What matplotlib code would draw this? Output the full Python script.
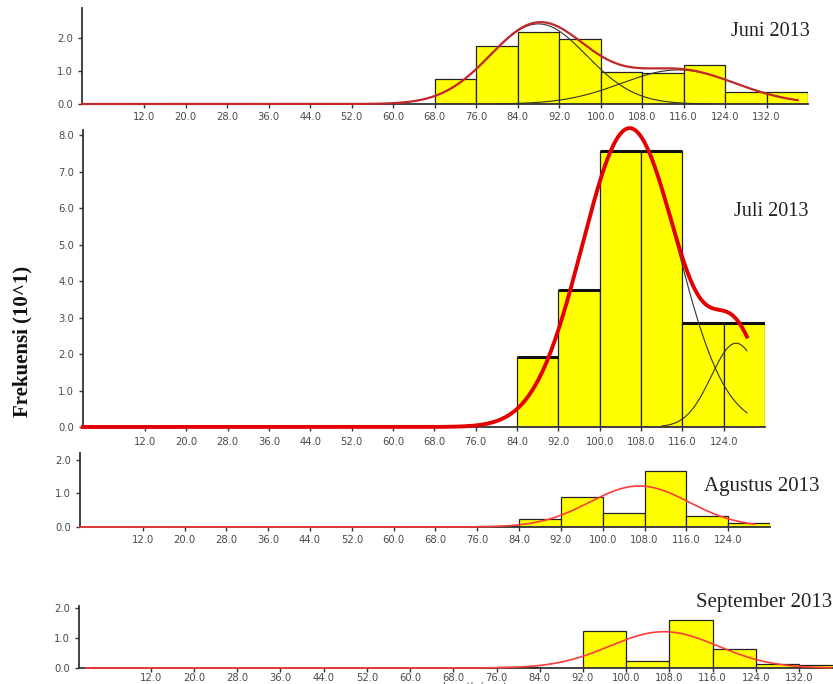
import numpy as np
import matplotlib.pyplot as plt

# length classes (left edge of each 8 mm bin) and frequencies (x10)
juni_left = [68, 76, 84, 92, 100, 108, 116, 124, 132]
juni_freq = [0.76, 1.76, 2.18, 1.97, 0.97, 0.94, 1.18, 0.36, 0.36]
juli_left = [84, 92, 100, 108, 116, 124]
juli_freq = [1.92, 3.77, 7.58, 7.58, 2.86, 2.86]
agus_left = [76, 84, 92, 100, 108, 116, 124]
agus_freq = [0.03, 0.24, 0.90, 0.42, 1.67, 0.33, 0.12]
sept_left = [76, 92, 100, 108, 116, 124, 132]
sept_freq = [0.03, 1.23, 0.23, 1.60, 0.63, 0.13, 0.10]

# fitted normal components: mean, sd, peak height
juni_mu, juni_sd, juni_amp = [88, 115], [9.3, 11.0], [2.42, 1.03]
juli_mu, juli_sd, juli_amp = [105.8, 126.4], [9.2, 4.8], [8.2, 2.3]
agus_mu, agus_sd, agus_amp = [107], [9.5], [1.22]
sept_mu, sept_sd, sept_amp = [107], [10.0], [1.2]

xticks_long = [12, 20, 28, 36, 44, 52, 60, 68, 76, 84, 92, 100, 108, 116, 124, 132]
xticks_short = xticks_long[:-1]

W, H = 833, 684
fig = plt.figure(figsize=(W / 100, H / 100), dpi=100)


def make_ax(l, r, t, b):
    return fig.add_axes([l / W, 1 - b / H, (r - l) / W, (b - t) / H])


def comp(x, mu, sd, amp):
    return amp * np.exp(-(x - mu) ** 2 / (2 * sd ** 2))


def panel(ax, left, freq, mus, sds, amps, xend, xlim, ylim, yticks, xticks,
          red, red_lw, comp_ranges, thick_top=False, tickpad=4):
    ax.bar(left, freq, width=8, align='edge', color='#ffff00',
           edgecolor='#222222', linewidth=0.9, zorder=2)
    if thick_top:
        for l, f in zip(left, freq):
            ax.plot([l, l + 8], [f, f], color='#111111', lw=2.2, zorder=3,
                    solid_capstyle='butt')
    x = np.linspace(0, xend, 600)
    total = np.zeros_like(x)
    for mu, sd, amp in zip(mus, sds, amps):
        total += comp(x, mu, sd, amp)
    if len(mus) > 1:
        for (mu, sd, amp), (a, b) in zip(zip(mus, sds, amps), comp_ranges):
            xc = np.linspace(a, b, 300)
            ax.plot(xc, comp(xc, mu, sd, amp), color='#333333', lw=0.8,
                    zorder=4, clip_on=False)
    ax.plot(x, total, color=red, lw=red_lw, zorder=5, clip_on=False)
    ax.set_xlim(*xlim)
    ax.set_ylim(*ylim)
    ax.set_yticks(yticks)
    ax.set_yticklabels(['%.1f' % v for v in yticks])
    ax.set_xticks(xticks)
    ax.set_xticklabels(['%.1f' % v for v in xticks])
    ax.tick_params(axis='both', labelsize=7.2, colors='#333333',
                   labelcolor='#4a4a4a', length=3, width=1)
    ax.tick_params(axis='x', pad=tickpad)
    for s in ['top', 'right']:
        ax.spines[s].set_visible(False)
    for s in ['left', 'bottom']:
        ax.spines[s].set_color('#333333')
        ax.spines[s].set_linewidth(1.3)
    ax.patch.set_alpha(0)


ax1 = make_ax(82, 808, 8, 104)
panel(ax1, juni_left, juni_freq, juni_mu, juni_sd, juni_amp, 138, (0, 140),
      (0, 2.9), [0, 1, 2], xticks_long, '#c0282a', 1.6,
      [(70, 121), (80, 138)], tickpad=3)

ax2 = make_ax(83, 765, 130, 427)
panel(ax2, juli_left, juli_freq, juli_mu, juli_sd, juli_amp, 128.5, (0, 132),
      (0, 8.15), list(range(9)), xticks_short, '#e30000', 2.8,
      [(90, 128.5), (112, 128.5)], thick_top=True, tickpad=4)

ax3 = make_ax(80, 770, 453, 527)
panel(ax3, agus_left, agus_freq, agus_mu, agus_sd, agus_amp, 129, (0, 132),
      (0, 2.2), [0, 1, 2], xticks_short, '#ff3b3b', 1.2, [], tickpad=3)

ax4 = make_ax(79, 833, 606, 668)
panel(ax4, sept_left, sept_freq, sept_mu, sept_sd, sept_amp, 138, (-1.3, 138.3),
      (0, 2.05), [0, 1, 2], xticks_long, '#ff3b3b', 1.2, [], tickpad=0.5)

serif = ['Liberation Serif', 'DejaVu Serif']
fig.text(810 / W, 1 - 31 / H, 'Juni 2013', ha='right', va='center',
         fontsize=14.5, family=serif, color='#222222')
fig.text(808 / W, 1 - 211 / H, 'Juli 2013', ha='right', va='center',
         fontsize=14.5, family=serif, color='#222222')
fig.text(820 / W, 1 - 486 / H, 'Agustus 2013', ha='right', va='center',
         fontsize=15, family=serif, color='#222222')
fig.text(832 / W, 1 - 603 / H, 'September 2013', ha='right', va='center',
         fontsize=15, family=serif, color='#222222')

fig.text(22 / W, 1 - 341 / H, 'Frekuensi (10^1)', rotation=90, ha='center',
         va='center', fontsize=15, fontweight='bold', family=serif,
         color='#111111')
fig.text(475 / W, 1 - 682 / H, 'Length (mm)', ha='center', va='top',
         fontsize=7, color='#555555')

fig.savefig('out.png', dpi=100)
